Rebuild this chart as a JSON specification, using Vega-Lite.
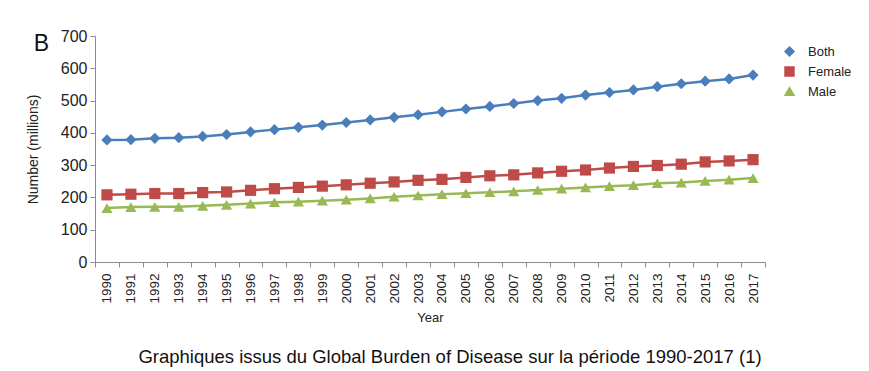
{
  "$schema": "https://vega.github.io/schema/vega-lite/v6.json",
  "width": 670,
  "height": 226,
  "autosize": {"type": "none"},
  "padding": {"left": 95, "top": 36, "right": 104, "bottom": 109},
  "background": "white",
  "config": {
    "font": "Liberation Sans",
    "view": {"stroke": null},
    "axis": {"grid": false, "domainColor": "#8c8c8c", "tickColor": "#8c8c8c", "labelColor": "#222", "titleColor": "#222", "titleFontWeight": "normal", "labelFont": "Liberation Sans", "titleFont": "Liberation Sans"}
  },
  "title": {
    "text": "Graphiques issus du Global Burden of Disease sur la période 1990-2017 (1)",
    "orient": "bottom",
    "anchor": "middle",
    "fontSize": 18.5,
    "fontWeight": "normal",
    "font": "Liberation Sans",
    "color": "#111",
    "offset": 24,
    "dx": 20
  },
  "data": {
    "values": [
      {"year": "1990", "series": "Both", "value": 378},
      {"year": "1991", "series": "Both", "value": 379},
      {"year": "1992", "series": "Both", "value": 383},
      {"year": "1993", "series": "Both", "value": 385},
      {"year": "1994", "series": "Both", "value": 389},
      {"year": "1995", "series": "Both", "value": 395},
      {"year": "1996", "series": "Both", "value": 403},
      {"year": "1997", "series": "Both", "value": 410},
      {"year": "1998", "series": "Both", "value": 417},
      {"year": "1999", "series": "Both", "value": 424},
      {"year": "2000", "series": "Both", "value": 432},
      {"year": "2001", "series": "Both", "value": 440},
      {"year": "2002", "series": "Both", "value": 448},
      {"year": "2003", "series": "Both", "value": 456},
      {"year": "2004", "series": "Both", "value": 465},
      {"year": "2005", "series": "Both", "value": 474},
      {"year": "2006", "series": "Both", "value": 482},
      {"year": "2007", "series": "Both", "value": 491},
      {"year": "2008", "series": "Both", "value": 500},
      {"year": "2009", "series": "Both", "value": 507},
      {"year": "2010", "series": "Both", "value": 517},
      {"year": "2011", "series": "Both", "value": 525},
      {"year": "2012", "series": "Both", "value": 533},
      {"year": "2013", "series": "Both", "value": 543},
      {"year": "2014", "series": "Both", "value": 552},
      {"year": "2015", "series": "Both", "value": 560},
      {"year": "2016", "series": "Both", "value": 567},
      {"year": "2017", "series": "Both", "value": 579},
      {"year": "1990", "series": "Female", "value": 208},
      {"year": "1991", "series": "Female", "value": 210},
      {"year": "1992", "series": "Female", "value": 212},
      {"year": "1993", "series": "Female", "value": 212},
      {"year": "1994", "series": "Female", "value": 215},
      {"year": "1995", "series": "Female", "value": 217},
      {"year": "1996", "series": "Female", "value": 222},
      {"year": "1997", "series": "Female", "value": 227},
      {"year": "1998", "series": "Female", "value": 231},
      {"year": "1999", "series": "Female", "value": 235},
      {"year": "2000", "series": "Female", "value": 239},
      {"year": "2001", "series": "Female", "value": 244},
      {"year": "2002", "series": "Female", "value": 248},
      {"year": "2003", "series": "Female", "value": 253},
      {"year": "2004", "series": "Female", "value": 256},
      {"year": "2005", "series": "Female", "value": 262},
      {"year": "2006", "series": "Female", "value": 267},
      {"year": "2007", "series": "Female", "value": 270},
      {"year": "2008", "series": "Female", "value": 276},
      {"year": "2009", "series": "Female", "value": 281},
      {"year": "2010", "series": "Female", "value": 285},
      {"year": "2011", "series": "Female", "value": 291},
      {"year": "2012", "series": "Female", "value": 296},
      {"year": "2013", "series": "Female", "value": 299},
      {"year": "2014", "series": "Female", "value": 303},
      {"year": "2015", "series": "Female", "value": 310},
      {"year": "2016", "series": "Female", "value": 313},
      {"year": "2017", "series": "Female", "value": 317},
      {"year": "1990", "series": "Male", "value": 167},
      {"year": "1991", "series": "Male", "value": 170},
      {"year": "1992", "series": "Male", "value": 171},
      {"year": "1993", "series": "Male", "value": 171},
      {"year": "1994", "series": "Male", "value": 174},
      {"year": "1995", "series": "Male", "value": 177},
      {"year": "1996", "series": "Male", "value": 181},
      {"year": "1997", "series": "Male", "value": 185},
      {"year": "1998", "series": "Male", "value": 187},
      {"year": "1999", "series": "Male", "value": 190},
      {"year": "2000", "series": "Male", "value": 193},
      {"year": "2001", "series": "Male", "value": 197},
      {"year": "2002", "series": "Male", "value": 202},
      {"year": "2003", "series": "Male", "value": 206},
      {"year": "2004", "series": "Male", "value": 210},
      {"year": "2005", "series": "Male", "value": 213},
      {"year": "2006", "series": "Male", "value": 216},
      {"year": "2007", "series": "Male", "value": 219},
      {"year": "2008", "series": "Male", "value": 223},
      {"year": "2009", "series": "Male", "value": 227},
      {"year": "2010", "series": "Male", "value": 231},
      {"year": "2011", "series": "Male", "value": 235},
      {"year": "2012", "series": "Male", "value": 238},
      {"year": "2013", "series": "Male", "value": 244},
      {"year": "2014", "series": "Male", "value": 246},
      {"year": "2015", "series": "Male", "value": 251},
      {"year": "2016", "series": "Male", "value": 255},
      {"year": "2017", "series": "Male", "value": 260}
    ]
  },
  "encoding": {
    "y": {
      "field": "value",
      "type": "quantitative",
      "scale": {"domain": [0, 700], "nice": false},
      "axis": {"values": [0, 100, 200, 300, 400, 500, 600, 700], "title": "Number (millions)", "titleFontSize": 14, "labelFontSize": 16, "tickSize": 5, "labelPadding": 3, "titlePadding": 20}
    },
    "color": {
      "field": "series",
      "type": "nominal",
      "scale": {"domain": ["Both", "Female", "Male"], "range": ["#4A7EBB", "#BE4B48", "#98B954"]},
      "legend": {"title": null, "orient": "none", "legendX": 688, "legendY": 9, "labelFontSize": 13, "labelColor": "#222", "symbolSize": 80, "rowPadding": 5, "labelOffset": 12}
    }
  },
  "layer": [
    {
      "mark": {"type": "line", "strokeWidth": 2.5},
      "encoding": {
        "x": {
          "field": "year",
          "type": "ordinal",
          "bandPosition": 0.5,
          "scale": {"type": "band", "paddingInner": 0, "paddingOuter": 0},
          "axis": {"orient": "bottom", "title": "Year", "titleFontSize": 13, "labelFontSize": 13.5, "labelAngle": -90, "tickBand": "extent", "tickSize": 5, "labelPadding": 6, "titlePadding": 8}
        }
      }
    },
    {
      "mark": {"type": "point", "filled": true, "opacity": 1, "size": 125},
      "encoding": {
        "x": {
          "field": "year",
          "type": "ordinal",
          "bandPosition": 0.5,
          "scale": {"type": "band", "paddingInner": 0, "paddingOuter": 0},
          "axis": {"orient": "top", "title": "B", "titleFontSize": 23, "titleColor": "#111", "titleAngle": 0, "titleX": -54, "titleY": 14, "titleAlign": "center", "titleBaseline": "alphabetic", "labels": false, "ticks": false, "domain": false}
        },
        "shape": {
          "field": "series",
          "type": "nominal",
          "scale": {"domain": ["Both", "Female", "Male"], "range": ["diamond", "square", "triangle-up"]},
          "legend": {"title": null, "orient": "none", "legendX": 688, "legendY": 9, "labelFontSize": 13, "labelColor": "#222", "symbolSize": 80, "rowPadding": 5, "labelOffset": 12}
        }
      }
    }
  ],
  "resolve": {"axis": {"x": "independent"}}
}
